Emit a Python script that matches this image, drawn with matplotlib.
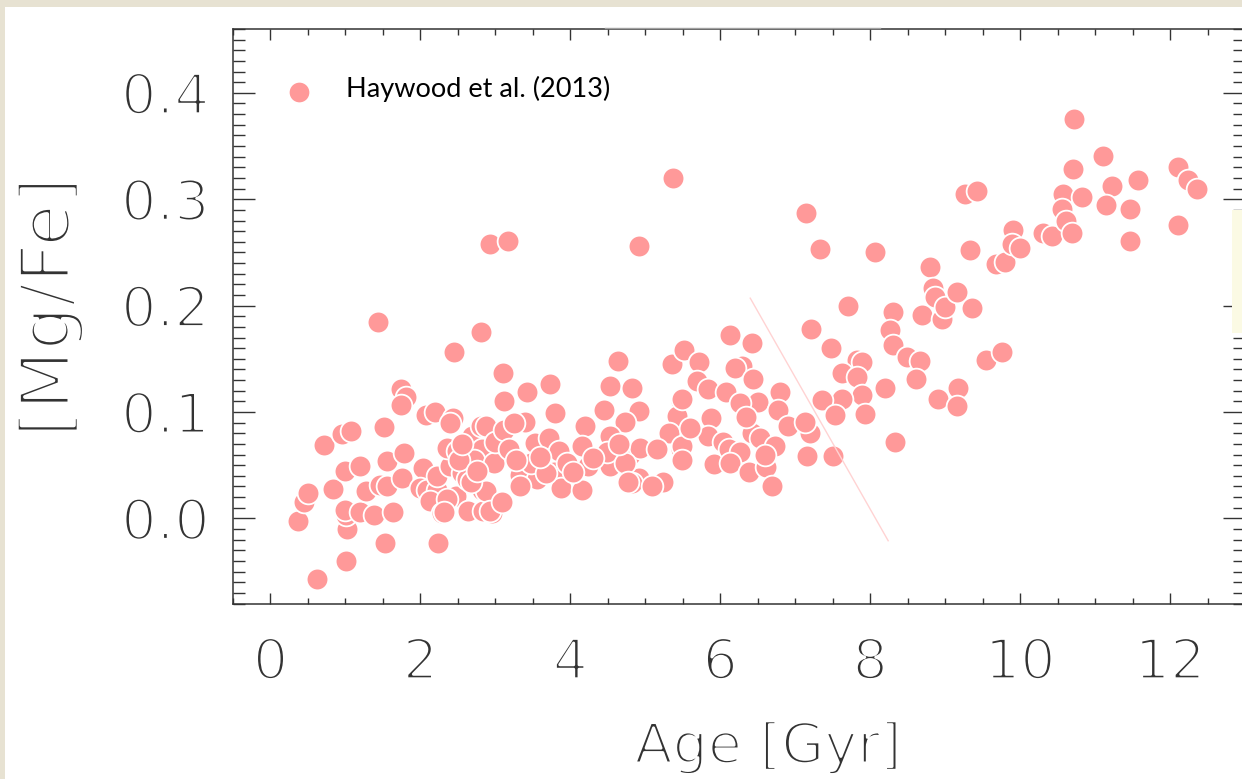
import matplotlib
matplotlib.use("Agg")
import matplotlib.pyplot as plt
import matplotlib.patheffects as pe
from matplotlib.ticker import MultipleLocator
from matplotlib.patches import Rectangle
from matplotlib.lines import Line2D

# Stellar age (Gyr) and [Mg/Fe] for the Haywood et al. (2013) sample
age = [
    0.37, 0.45, 0.50, 0.62, 0.72, 0.83, 0.96, 1.08, 1.00, 1.01,
    1.02, 1.00, 1.01, 0.99, 1.19, 1.20, 1.28, 1.38, 1.43, 1.46,
    1.52, 1.53, 1.56, 1.56, 1.64, 1.74, 1.81, 1.74, 1.78, 1.76,
    2.04, 2.08, 2.00, 2.20, 2.09, 2.22, 2.13, 2.29, 2.22, 2.23,
    2.40, 2.44, 2.40, 2.45, 2.56, 2.47, 2.64, 2.36, 2.49, 2.69,
    2.82, 2.71, 2.62, 2.82, 2.84, 2.81, 2.81, 2.87, 2.93, 2.98,
    2.96, 2.87, 2.51, 2.36, 2.31, 2.67, 2.93, 2.55, 2.75, 3.00,
    3.17, 3.10, 3.42, 3.12, 3.73, 3.80, 3.40, 3.11, 3.18, 3.53,
    3.71, 3.85, 3.33, 3.78, 3.87, 3.09, 3.56, 3.33, 3.47, 3.27,
    3.67, 3.25, 3.60, 3.95,
    4.20, 4.45, 4.53, 4.63, 4.82, 4.91, 4.73, 4.16, 4.53, 4.80,
    4.93, 4.24, 4.53, 4.91, 4.82, 4.16, 4.04, 4.92, 4.49, 4.73,
    4.77, 4.30, 4.65,
    5.37, 5.36, 5.51, 5.47, 5.42, 5.31, 5.16, 5.47, 5.24, 5.09,
    5.71, 5.69, 5.84, 5.49, 5.87, 5.83, 5.49, 5.49, 5.91, 5.60,
    6.13, 6.42, 6.29, 6.20, 6.44, 6.07, 6.80, 6.50, 6.26, 6.77,
    6.91, 6.42, 6.04, 6.53, 6.73, 6.11, 6.27, 6.13, 6.38, 6.61,
    6.69, 6.35, 6.60,
    7.15, 7.33, 7.71, 7.21, 7.48, 7.82, 7.89, 7.62, 7.82, 7.89,
    7.62, 7.36, 7.53, 7.93, 7.20, 7.13, 7.16, 7.51,
    8.07, 8.31, 8.27, 8.31, 8.20, 8.33, 8.49, 8.67, 8.61, 8.80,
    8.84, 8.87, 8.69, 8.96, 8.91, 9.00,
    9.16, 9.36, 9.17, 9.16, 9.27, 9.43, 9.33, 9.55, 9.76, 9.68,
    9.80, 9.90, 9.89, 10.00, 10.30, 10.42, 10.72, 11.10, 10.71, 12.11,
    12.24, 12.36, 11.23, 11.57, 10.57, 10.83, 11.14, 11.47, 10.56, 10.61,
    10.69, 11.47, 12.10,
]
mgfe = [
    -0.002, 0.015, 0.024, -0.057, 0.069, 0.028, 0.079, 0.082, 0.045, -0.040,
    -0.010, 0.006, 0.003, 0.008, 0.049, 0.006, 0.026, 0.003, 0.185, 0.031,
    0.086, -0.023, 0.054, 0.030, 0.006, 0.122, 0.114, 0.107, 0.061, 0.038,
    0.047, 0.097, 0.029, 0.100, 0.027, 0.027, 0.016, 0.005, 0.040, -0.023,
    0.049, 0.094, 0.090, 0.156, 0.043, 0.021, 0.007, 0.066, 0.063, 0.077,
    0.065, 0.055, 0.037, 0.027, 0.007, 0.175, 0.087, 0.087, 0.258, 0.052,
    0.005, 0.026, 0.055, 0.018, 0.006, 0.034, 0.007, 0.070, 0.045, 0.072,
    0.261, 0.137, 0.119, 0.110, 0.126, 0.099, 0.091, 0.083, 0.065, 0.071,
    0.076, 0.063, 0.041, 0.044, 0.029, 0.015, 0.037, 0.030, 0.052, 0.055,
    0.043, 0.090, 0.058, 0.052,
    0.087, 0.102, 0.124, 0.148, 0.123, 0.101, 0.091, 0.068, 0.077, 0.060,
    0.066, 0.049, 0.049, 0.038, 0.033, 0.027, 0.044, 0.256, 0.062, 0.052,
    0.034, 0.057, 0.070,
    0.320, 0.145, 0.158, 0.110, 0.096, 0.080, 0.065, 0.065, 0.034, 0.030,
    0.147, 0.129, 0.122, 0.112, 0.094, 0.077, 0.068, 0.055, 0.051, 0.085,
    0.172, 0.165, 0.143, 0.141, 0.131, 0.119, 0.119, 0.109, 0.108, 0.102,
    0.087, 0.080, 0.072, 0.076, 0.068, 0.065, 0.062, 0.052, 0.044, 0.048,
    0.030, 0.095, 0.060,
    0.287, 0.253, 0.200, 0.178, 0.160, 0.149, 0.147, 0.137, 0.133, 0.116,
    0.112, 0.111, 0.097, 0.098, 0.080, 0.091, 0.059, 0.059,
    0.250, 0.194, 0.177, 0.163, 0.123, 0.072, 0.152, 0.148, 0.131, 0.236,
    0.217, 0.208, 0.191, 0.187, 0.112, 0.199,
    0.213, 0.198, 0.123, 0.106, 0.305, 0.308, 0.252, 0.149, 0.156, 0.239,
    0.241, 0.271, 0.258, 0.254, 0.268, 0.265, 0.375, 0.341, 0.328, 0.330,
    0.318, 0.310, 0.312, 0.318, 0.305, 0.302, 0.295, 0.291, 0.291, 0.280,
    0.268, 0.261, 0.276,
]

# Faint guide line drawn across the plot
guide_age = [6.40, 8.24]
guide_mgfe = [0.207, -0.021]

W, H = 1242, 779
fig = plt.figure(figsize=(W / 100, H / 100), dpi=100)
fig.patch.set_facecolor("#E7E2D2")

# White slide panel behind everything
fig.patches.append(Rectangle((5 / W, 0), 1, (H - 7) / H, transform=fig.transFigure,
                             facecolor="white", edgecolor="none", zorder=-10))

ax = fig.add_axes([233 / W, (H - 603.5) / H, (1245 - 233) / W, (603.5 - 29) / H])
ax.set_facecolor("white")
ax.set_xlim(-0.5, 13.0)
ax.set_ylim(-0.08, 0.46)

point_color = "#FF9999"
ax.scatter(age, mgfe, s=245, c=point_color, edgecolors="white", linewidths=1.3,
           zorder=3)
ax.plot(guide_age, guide_mgfe, color="#FFD3D3", lw=1.0, zorder=4)

# Axes styling: ticks inward on all four sides
axis_color = "#333333"
for sp in ax.spines.values():
    sp.set_color(axis_color)
    sp.set_linewidth(1.1)

ax.xaxis.set_major_locator(MultipleLocator(2))
ax.xaxis.set_minor_locator(MultipleLocator(0.5))
ax.yaxis.set_major_locator(MultipleLocator(0.1))
ax.yaxis.set_minor_locator(MultipleLocator(0.01))

label_color = "#333333"


def hairline(width):
    # fill the glyph, then trim its outline with a white stroke
    return [pe.Normal(), pe.Stroke(linewidth=width, foreground="white")]


ax.tick_params(axis="x", which="major", direction="in", length=8, width=1.0,
               top=True, bottom=True, color=axis_color, pad=24,
               labelsize=40, labelcolor=label_color)
ax.tick_params(axis="x", which="minor", direction="in", length=4, width=1.0,
               top=True, bottom=True, color=axis_color)
ax.tick_params(axis="y", which="major", direction="in", length=16, width=1.0,
               left=True, right=True, color=axis_color, pad=17,
               labelsize=40, labelcolor=label_color)
ax.tick_params(axis="y", which="minor", direction="in", length=8.5, width=1.0,
               left=True, right=True, color=axis_color)

ax.set_xticks([0, 2, 4, 6, 8, 10, 12])
ax.set_xticklabels(["0", "2", "4", "6", "8", "10", "12"])
ax.set_yticks([0.0, 0.1, 0.2, 0.3, 0.4])
ax.set_yticklabels(["0.0", "0.1", "0.2", "0.3", "0.4"])
for lab in ax.get_xticklabels() + ax.get_yticklabels():
    lab.set_family("DejaVu Sans")
    lab.set_path_effects(hairline(2.2))

# Axis titles
fig.text(768 / W, (H - 763) / H, "Age [Gyr]", ha="center", va="baseline",
         fontsize=40, family="DejaVu Sans", color=label_color,
         path_effects=hairline(2.2))
fig.text(50 / W, (H - 307) / H, "[Mg/Fe]", ha="center", va="center", rotation=90,
         fontsize=50, family="DejaVu Sans", color=label_color,
         path_effects=hairline(2.9))

# Legend entry
fig.add_artist(Line2D([299 / W], [(H - 92) / H], transform=fig.transFigure,
                      marker="o", markersize=15.5, markerfacecolor=point_color,
                      markeredgecolor="white", markeredgewidth=1.3, linestyle="none",
                      zorder=5))
fig.text(346 / W, (H - 89) / H, "Haywood et al. (2013)", ha="left", va="center",
         fontsize=19.5, family="Lato", color="black", zorder=5)

# Thin panel strip at the right edge and stray rule at the top
fig.patches.append(Rectangle((1232 / W, (H - 333) / H), 10 / W, 123 / H,
                             transform=fig.transFigure, facecolor="#FBFAE4",
                             edgecolor="none", zorder=10))
fig.add_artist(Line2D([605 / W, 880 / W], [(H - 27.5) / H] * 2,
                      transform=fig.transFigure, color="#A0A0A0", lw=1.0, zorder=10))

fig.savefig("out.png", dpi=100, facecolor=fig.get_facecolor())
